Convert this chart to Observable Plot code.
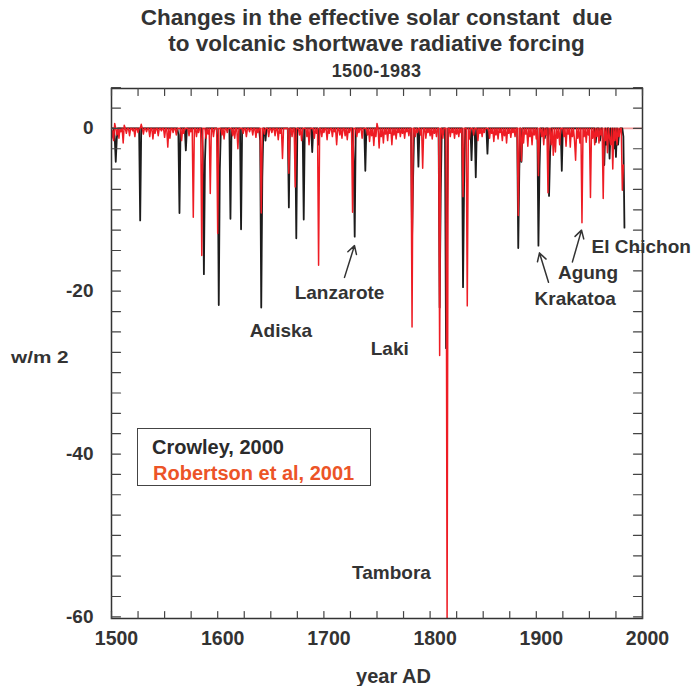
<!DOCTYPE html>
<html><head><meta charset="utf-8">
<script src="https://cdn.jsdelivr.net/npm/d3@7"></script>
<script src="https://cdn.jsdelivr.net/npm/@observablehq/plot@0.6"></script>
<style>
body{margin:0;background:#fff;font-family:"Liberation Sans",Arial,Helvetica,sans-serif;}
#wrap{position:relative;width:698px;height:686px;overflow:hidden;}
.t{position:absolute;font-weight:bold;color:#333;white-space:pre;}
#legend{position:absolute;left:137px;top:428px;width:234px;height:58px;box-sizing:border-box;border:1.5px solid #444;background:#fff;}
</style></head><body><div id="wrap"></div>
<script>
// ---- data ----
// Crowley, 2000: [year, W/m2]; years not listed are 0
const crowleyEvents = [
  [1503,-1.0],[1504,-4.1],[1505,-1.2],[1527,-11.3],[1563,-0.8],[1564,-10.4],[1570,-2.7],
  [1586,-3.0],[1587,-17.9],[1588,-4.0],[1600,-2.0],[1601,-21.7],[1602,-5.0],[1612,-11.1],
  [1622,-12.4],[1640,-1.5],[1641,-22.0],[1642,-6.0],[1645,-1.5],[1667,-9.7],[1674,-13.5],
  [1681,-11.2],[1689,-2.9],[1695,-2.0],[1728,-4.0],[1729,-13.3],[1739,-5.2],[1783,-13.5],
  [1784,-6.0],[1789,-4.7],[1809,-22.0],[1810,-8.0],[1815,-27.0],[1816,-10.0],[1831,-19.5],
  [1832,-7.0],[1839,-3.9],[1843,-6.0],[1854,-3.1],[1883,-14.7],[1884,-5.0],[1886,-4.1],
  [1902,-14.4],[1903,-5.0],[1908,-1.2],[1912,-8.3],[1913,-3.0],[1924,-5.2],[1956,-1.7],
  [1960,-1.5],[1963,-2.0],[1964,-4.5],[1966,-2.0],[1969,-3.7],[1971,-1.5],[1973,-2.5],
  [1975,-3.5],[1977,-2.0],[1978,-0.6],[1982,-1.0],[1983,-12.2]
];
// Robertson et al, 2001: large events
const robertsonSpikes = [
  [1577,-10.9],[1585,-15.6],[1593,-8.0],[1600,-12.9],[1619,-2.5],[1641,-10.4],[1661,-3.7],
  [1667,-5.5],[1673,-7.2],[1695,-16.8],[1727,-10.3],[1783,-24.4],[1793,-4.9],[1809,-27.9],
  [1816,-60.5],[1831,-8.4],[1835,-21.8],[1883,-10.7],[1886,-4.0],[1902,-5.8],[1911,-7.9],
  [1937,-3.9],[1943,-11.6],[1951,-8.5],[1963,-8.6],[1981,-7.6],[1982,-4.5]
];
// Robertson et al, 2001: small background values
const robertsonSmall = [
  [1500,-1.3],[1501,-0.3],[1502,-1.5],[1503,0.6],[1505,-0.8],[1507,-1.2],[1509,-0.4],[1511,-1.8],
  [1512,0.4],[1514,-0.6],[1517,-0.9],[1520,-0.3],[1522,-1.0],[1525,-0.5],[1528,0.5],[1530,-0.7],
  [1533,-0.4],[1536,-1.0],[1539,-1.3],[1541,-0.6],[1544,-0.9],[1547,-0.3],[1550,-1.1],[1553,-2.3],
  [1555,-1.2],[1558,-0.5],[1561,-0.8],[1566,-1.5],[1568,-0.6],[1573,-0.9],[1575,-0.4],[1580,-1.0],
  [1582,-0.5],[1589,-1.2],[1591,-0.7],[1596,-1.0],[1604,-0.8],[1606,-1.3],[1609,-0.5],[1614,-0.9],
  [1616,-1.2],[1624,-0.6],[1627,-1.0],[1630,-0.4],[1633,-0.8],[1636,-1.1],[1638,-0.5],[1644,-0.7],
  [1648,-1.0],[1651,-0.5],[1654,-0.9],[1657,-1.4],[1659,-0.6],[1670,-1.0],[1677,-0.8],[1679,-1.5],
  [1684,-1.0],[1686,-2.0],[1691,-1.2],[1693,-0.6],[1698,-1.0],[1700,-0.5],[1703,-1.4],[1705,-0.6],
  [1708,-1.0],[1710,-0.4],[1712,-2.0],[1715,-0.8],[1717,-1.2],[1720,-0.9],[1722,-1.4],[1724,-0.5],
  [1731,-1.0],[1733,-0.5],[1736,-1.2],[1741,-0.8],[1743,-1.6],[1745,-0.9],[1747,-2.1],[1749,-1.0],
  [1750,0.6],[1752,-2.4],[1754,-1.0],[1756,-1.8],[1758,-0.7],[1760,-1.5],[1762,-0.6],[1764,-2.0],
  [1766,-0.8],[1768,-1.3],[1770,-0.5],[1772,-1.0],[1774,-0.6],[1776,-1.2],[1778,-0.4],[1780,-0.9],
  [1786,-1.0],[1788,-0.5],[1791,-0.8],[1796,-1.2],[1798,-0.5],[1800,-0.9],[1802,-1.3],[1804,-0.6],
  [1806,-1.0],[1812,-1.2],[1819,-1.0],[1821,-0.5],[1823,-1.2],[1825,-0.7],[1827,-1.0],[1829,-0.5],
  [1837,-1.3],[1841,-0.8],[1845,-1.5],[1847,-0.6],[1849,-1.0],[1851,-0.5],[1856,-1.2],[1858,-0.6],
  [1860,-1.6],[1862,-0.8],[1864,-1.3],[1866,-0.5],[1868,-1.5],[1870,-0.9],[1872,-1.8],[1874,-0.6],
  [1876,-1.1],[1878,-0.5],[1880,-1.0],[1888,-1.8],[1890,-0.7],[1892,-2.2],[1894,-1.0],[1896,-2.0],
  [1898,-0.8],[1900,-1.3],[1905,-1.0],[1907,-2.0],[1909,-0.8],[1914,-2.0],[1916,-3.3],[1918,-2.9],
  [1920,-1.2],[1922,-2.0],[1926,-1.0],[1928,-2.2],[1930,-0.7],[1932,-2.3],[1934,-1.0],[1936,-1.5],
  [1939,-1.2],[1941,-1.8],[1945,-1.0],[1947,-1.7],[1949,-0.8],[1953,-1.2],[1955,-2.0],[1957,-1.0],
  [1959,-1.8],[1961,-0.8],[1965,-1.5],[1967,-3.0],[1969,-1.2],[1970,-2.0],[1972,-5.0],[1974,-1.5],
  [1976,-2.0],[1978,-1.0]
];
const crowleyRange = [1500, 1983];
const robertsonRange = [1500, 1982];

const xTickLabels = [1500, 1600, 1700, 1800, 1900, 2000];
const yTickLabels = [0, -20, -40, -60];

const volcanoNames  = ["Lanzarote", "Adiska", "Laki", "Tambora", "Krakatoa", "Agung", "El Chichon"];
const volcanoYears  = [1714.7, 1659.6, 1762, 1763.6, 1936.6, 1948.7, 1998.8];
const volcanoValues = [-20.2, -24.9, -27.1, -54.6, -21.0, -17.7, -14.5];

const arrowFromYears  = [1719.4, 1911.5, 1934];
const arrowFromValues = [-18.3, -18.9, -16.4];
const arrowToYears    = [1728.8, 1903, 1942.6];
const arrowToValues   = [-14.4, -15.3, -12.5];

const seriesNames = ["Crowley, 2000", "Robertson et al, 2001"];

// ---- build ----
function annual(range, ...lists) {
  const m = new Map();
  for (const l of lists) for (const [y, v] of l) m.set(y, v);
  return d3.range(range[0], range[1] + 1).map(year => ({year, value: m.has(year) ? m.get(year) : 0}));
}
const crowley = annual(crowleyRange, crowleyEvents);
const robertson = annual(robertsonRange, robertsonSmall, robertsonSpikes);

const volcanoes = volcanoNames.map((name, i) => ({name, year: volcanoYears[i], value: volcanoValues[i]}));
const arrows = arrowFromYears.map((d, i) => ({x1: d, y1: arrowFromValues[i], x2: arrowToYears[i], y2: arrowToValues[i]}));

const xMinor = d3.range(1500, 2001, 25);
const yMinor = d3.range(-60, 5.01, 2.5);
const line = {draw(ctx, l) { ctx.moveTo(0, 0); ctx.lineTo(0, -l); }};
const tickStyle = {shape: line, anchor: "start", stroke: "#444", strokeWidth: 1.2};

const font = '"Liberation Sans", Arial, Helvetica, sans-serif';

const chart = Plot.plot({
  width: 698, height: 686,
  marginTop: 88, marginBottom: 68, marginLeft: 111, marginRight: 56,
  x: {domain: [1500, 2000]},
  y: {domain: [-60.2, 4.9]},
  style: {fontFamily: font, background: "transparent", overflow: "visible"},
  marks: [
    Plot.ruleY([0], {stroke: "#f39a9a", strokeWidth: 1.6}),
    Plot.line(crowley, {x: "year", y: "value", stroke: "#1c1c1c", strokeWidth: 1.8, clip: true}),
    Plot.line(robertson, {x: "year", y: "value", stroke: "#ee1c24", strokeWidth: 1.5, clip: true}),
    Plot.frame({stroke: "#333", strokeWidth: 1.5}),
    Plot.vector(xMinor, {x: d => d, frameAnchor: "bottom", rotate: 0, length: 7, ...tickStyle}),
    Plot.vector(xMinor, {x: d => d, frameAnchor: "top", rotate: 180, length: 7, ...tickStyle}),
    Plot.vector(yMinor, {y: d => d, frameAnchor: "left", rotate: 90, length: 9, ...tickStyle}),
    Plot.vector(yMinor, {y: d => d, frameAnchor: "right", rotate: -90, length: 9, ...tickStyle}),
    Plot.axisX({ticks: xTickLabels, tickSize: 0, tickPadding: 13, dx: 5, fontSize: 19.5, fontWeight: "bold", fill: "#333", label: null, tickFormat: d => String(d)}),
    Plot.axisY({ticks: yTickLabels, tickSize: 0, tickPadding: 18, fontSize: 19, fontWeight: "bold", fill: "#333", label: null, tickFormat: d => String(d)}),
    Plot.arrow(arrows, {x1: "x1", y1: "y1", x2: "x2", y2: "y2", stroke: "#333", strokeWidth: 1.5, headLength: 9}),
    Plot.text(volcanoes, {x: "year", y: "value", text: "name", fontSize: 19, fontWeight: "bold", fill: "#333", clip: false})
  ]
});

const wrap = document.getElementById("wrap");
wrap.appendChild(chart);

function addText(txt, style) {
  const d = document.createElement("div");
  d.className = "t";
  d.textContent = txt;
  Object.assign(d.style, style);
  wrap.appendChild(d);
  return d;
}
addText("Changes in the effective solar constant  due", {left: "111px", width: "531px", textAlign: "center", top: "4px", fontSize: "22.5px", lineHeight: "28px"});
addText("to volcanic shortwave radiative forcing", {left: "111px", width: "531px", textAlign: "center", top: "30px", fontSize: "22.5px", lineHeight: "28px"});
addText("1500-1983", {left: "111px", width: "531px", textAlign: "center", top: "60px", fontSize: "18px", lineHeight: "22px", letterSpacing: "0.4px"});
addText("w/m 2", {left: "11px", top: "347px", fontSize: "17px", lineHeight: "22px", transform: "scaleX(1.22)", transformOrigin: "left center"});
addText("year AD", {left: "128px", width: "531px", textAlign: "center", top: "664px", fontSize: "20px", lineHeight: "24px"});

const lg = document.createElement("div");
lg.id = "legend";
wrap.appendChild(lg);
addText(seriesNames[0], {left: "152px", top: "435px", fontSize: "20px", lineHeight: "24px", color: "#2b2b2b"});
addText(seriesNames[1], {left: "153px", top: "461px", fontSize: "20px", lineHeight: "24px", color: "#ec5427"});
</script>
</body></html>
